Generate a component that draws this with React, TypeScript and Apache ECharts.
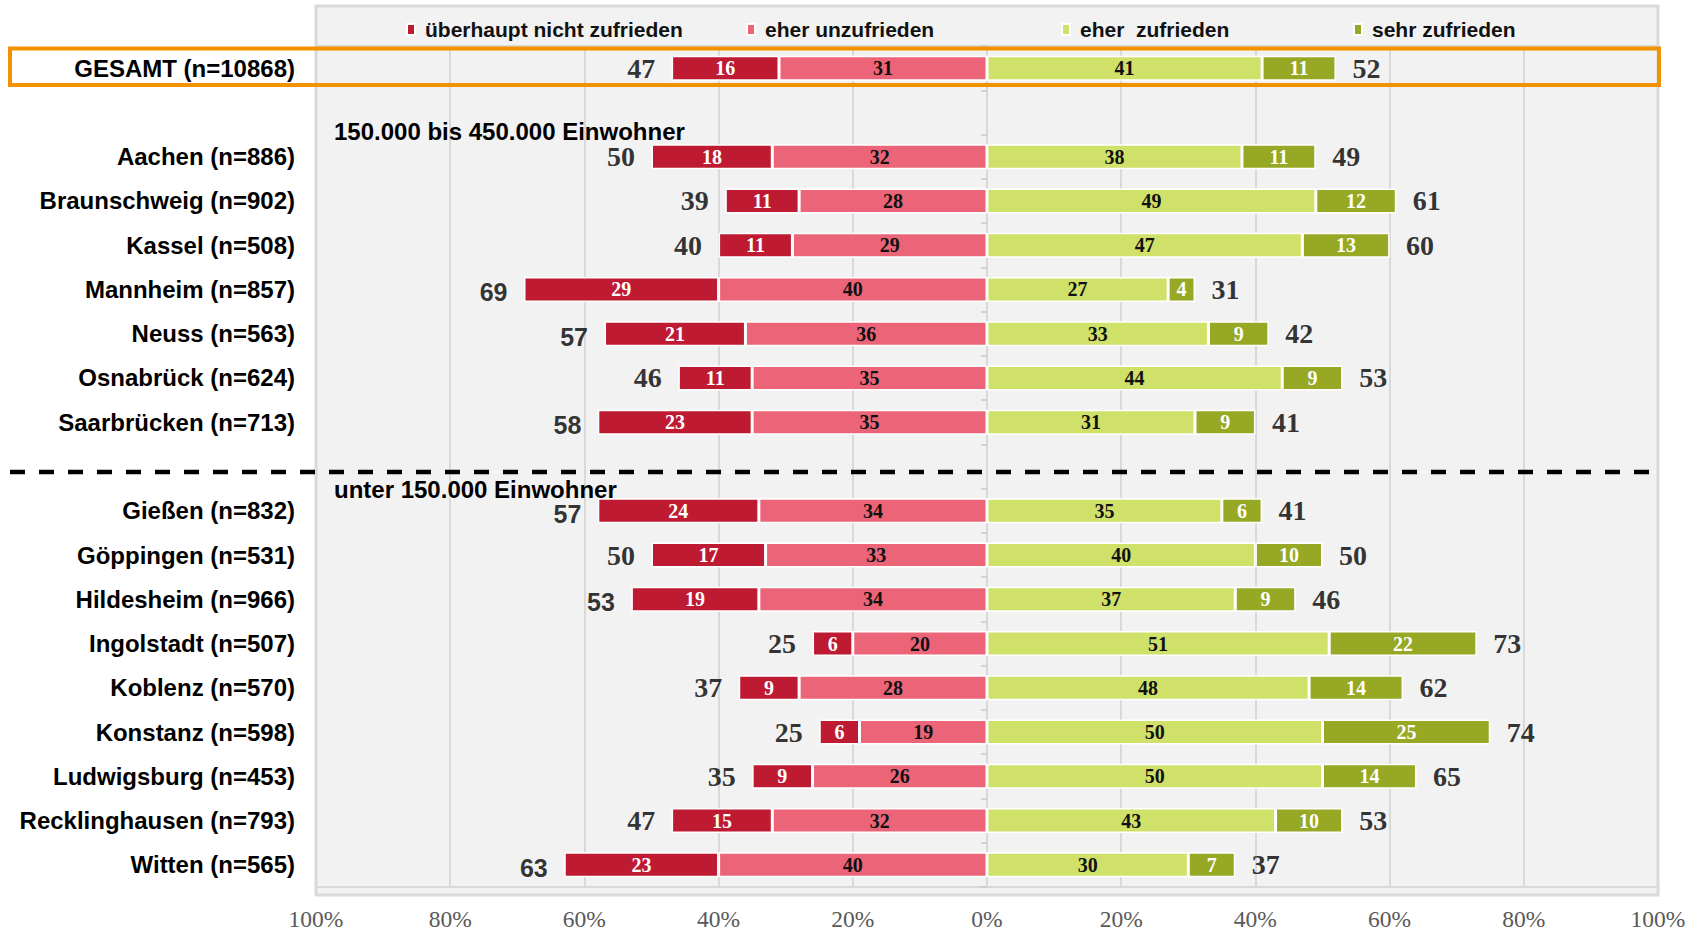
import React, { useEffect, useRef } from "react";
import * as echarts from "echarts";

const categories = [
  "GESAMT (n=10868)",
  "",
  "Aachen (n=886)",
  "Braunschweig (n=902)",
  "Kassel (n=508)",
  "Mannheim (n=857)",
  "Neuss (n=563)",
  "Osnabrück (n=624)",
  "Saarbrücken (n=713)",
  " ",
  "Gießen (n=832)",
  "Göppingen (n=531)",
  "Hildesheim (n=966)",
  "Ingolstadt (n=507)",
  "Koblenz (n=570)",
  "Konstanz (n=598)",
  "Ludwigsburg (n=453)",
  "Recklinghausen (n=793)",
  "Witten (n=565)",
];

const seriesNames = [
  "überhaupt nicht zufrieden",
  "eher unzufrieden",
  "eher  zufrieden",
  "sehr zufrieden",
];

const notAtAll = [16, null, 18, 11, 11, 29, 21, 11, 23, null, 24, 17, 19, 6, 9, 6, 9, 15, 23];
const ratherNot = [31, null, 32, 28, 29, 40, 36, 35, 35, null, 34, 33, 34, 20, 28, 19, 26, 32, 40];
const rather = [41, null, 38, 49, 47, 27, 33, 44, 31, null, 35, 40, 37, 51, 48, 50, 50, 43, 30];
const very = [11, null, 11, 12, 13, 4, 9, 9, 9, null, 6, 10, 9, 22, 14, 25, 14, 10, 7];
const negTotals = [47, null, 50, 39, 40, 69, 57, 46, 58, null, 57, 50, 53, 25, 37, 25, 35, 47, 63];
const posTotals = [52, null, 49, 61, 60, 31, 42, 53, 41, null, 41, 50, 46, 73, 62, 74, 65, 53, 37];

const sectionHeaders = ["150.000 bis 450.000 Einwohner", "unter 150.000 Einwohner"];
const xTicks = [-100, -80, -60, -40, -20, 0, 20, 40, 60, 80, 100];

const colors = ["#BE1A31", "#EB6478", "#D0E16A", "#96A824"];
const SANS = "Liberation Sans, Arial, Helvetica, sans-serif";
const SERIF = "Liberation Serif, Times New Roman, serif";

export default function App() {
  const ref = useRef<HTMLDivElement>(null);

  useEffect(() => {
    if (!ref.current) return;
    const chart = echarts.init(ref.current, null, { renderer: "svg" });

    const innerLabel = (color: string) => ({
      show: true,
      position: "inside",
      color,
      fontFamily: SERIF,
      fontWeight: "bold",
      fontSize: 20,
      formatter: (p: any) => String(Math.abs(p.value)),
    });

    const barBase = {
      type: "bar",
      stack: "total",
      barWidth: 25,
      yAxisIndex: 0,
      itemStyle: { borderColor: "#ffffff", borderWidth: 1.5 },
      emphasis: { disabled: true },
      z: 3,
    };

    const neg = (arr: (number | null)[]) => arr.map((v) => (v == null ? "-" : -v));
    const pos = (arr: (number | null)[]) => arr.map((v) => (v == null ? "-" : v));

    const leftPoints = (useSans: boolean) =>
      categories
        .map((c, i) =>
          negTotals[i] == null || ((negTotals[i] as number) > 52) !== useSans
            ? null
            : {
                value: [-((notAtAll[i] as number) + (ratherNot[i] as number)), i],
                total: negTotals[i],
              }
        )
        .filter(Boolean);

    const rightPoints = categories
      .map((c, i) =>
        posTotals[i] == null
          ? null
          : {
              value: [(rather[i] as number) + (very[i] as number), i],
              total: posTotals[i],
            }
      )
      .filter(Boolean);

    const totalSeries = (name: string, data: any[], position: string, family: string, size: number, dy: number) => ({
      type: "scatter",
      name,
      yAxisIndex: 0,
      symbol: "rect",
      symbolSize: 1,
      itemStyle: { color: "rgba(0,0,0,0)" },
      silent: true,
      z: 5,
      label: {
        show: true,
        position,
        distance: 16,
        offset: [0, dy],
        color: "#000000",
        fontWeight: "bold",
        fontFamily: family,
        fontSize: size,
        formatter: (p: any) => String(p.data.total),
      },
      data,
    });

    const legendLefts = [401, 741, 1056, 1348];

    const option: any = {
      animation: false,
      backgroundColor: "#ffffff",
      grid: {
        left: 316,
        right: 40,
        top: 46,
        bottom: 36,
        show: true,
        backgroundColor: "transparent",
        borderColor: "#d9d9d9",
        borderWidth: 2,
      },
      legend: seriesNames.map((n, i) => ({
        data: [n],
        left: legendLefts[i],
        top: 14,
        icon: "rect",
        itemWidth: 8,
        itemHeight: 11,
        selectedMode: false,
        textStyle: {
          fontFamily: SANS,
          fontWeight: "bold",
          fontSize: 21,
          color: "#111111",
          padding: [0, 0, 0, 5],
        },
      })),
      xAxis: {
        type: "value",
        min: -100,
        max: 100,
        interval: 20,
        axisLine: { show: false },
        axisTick: { show: false },
        splitLine: { show: true, lineStyle: { color: "#d9d9d9", width: 2 } },
        axisLabel: {
          margin: 20,
          fontFamily: SERIF,
          fontSize: 23.5,
          color: "#595959",
          formatter: (v: number) => (xTicks.includes(v) ? Math.abs(v) + "%" : ""),
        },
      },
      yAxis: [
        {
          type: "category",
          data: categories,
          inverse: true,
          axisLine: { show: false },
          axisTick: { show: false },
          axisLabel: {
            margin: 21,
            fontFamily: SANS,
            fontWeight: "bold",
            fontSize: 24,
            color: "#000000",
          },
        },
        {
          type: "category",
          data: categories,
          inverse: true,
          position: "left",
          offset: -671,
          axisLine: { show: false },
          axisTick: { show: true, length: 6, lineStyle: { color: "#c8c8c8", width: 1.5 } },
          axisLabel: { show: false },
        },
      ],
      series: [
        { ...barBase, name: seriesNames[1], data: neg(ratherNot), itemStyle: { ...barBase.itemStyle, color: colors[1] }, label: innerLabel("#111111") },
        { ...barBase, name: seriesNames[0], data: neg(notAtAll), itemStyle: { ...barBase.itemStyle, color: colors[0] }, label: innerLabel("#ffffff") },
        { ...barBase, name: seriesNames[2], data: pos(rather), itemStyle: { ...barBase.itemStyle, color: colors[2] }, label: innerLabel("#111111") },
        { ...barBase, name: seriesNames[3], data: pos(very), itemStyle: { ...barBase.itemStyle, color: colors[3] }, label: innerLabel("#ffffff") },
        totalSeries("totalNegSerif", leftPoints(false), "left", SERIF, 28, 0),
        totalSeries("totalNegSans", leftPoints(true), "left", SANS, 25, 3),
        totalSeries("totalPos", rightPoints, "right", SERIF, 28, 0),
      ],
      graphic: [
        {
          type: "rect",
          z: -10,
          silent: true,
          shape: { x: 316, y: 6, width: 1342, height: 889 },
          style: { fill: "#f2f2f2", stroke: "#d9d9d9", lineWidth: 3 },
        },
        {
          type: "rect",
          z: 100,
          silent: true,
          shape: { x: 10, y: 48.5, width: 1649, height: 36.5 },
          style: { fill: "none", stroke: "#F39200", lineWidth: 4 },
        },
        {
          type: "line",
          z: 100,
          silent: true,
          shape: { x1: 10, y1: 472, x2: 1660, y2: 472 },
          style: { stroke: "#000000", lineWidth: 4.5, lineDash: [15, 14] },
        },
        {
          type: "text",
          z: 100,
          silent: true,
          x: 334,
          y: 131,
          style: {
            text: sectionHeaders[0],
            fontFamily: SANS,
            fontWeight: "bold",
            fontSize: 24,
            fill: "#000000",
            verticalAlign: "middle",
          },
        },
        {
          type: "text",
          z: 100,
          silent: true,
          x: 334,
          y: 489,
          style: {
            text: sectionHeaders[1],
            fontFamily: SANS,
            fontWeight: "bold",
            fontSize: 24,
            fill: "#000000",
            verticalAlign: "middle",
          },
        },
      ],
    };

    chart.setOption(option);
    return () => chart.dispose();
  }, []);

  return (
    <div
      ref={ref}
      style={{ position: "fixed", left: 0, top: 0, width: 1698, height: 931, background: "#ffffff" }}
    />
  );
}
